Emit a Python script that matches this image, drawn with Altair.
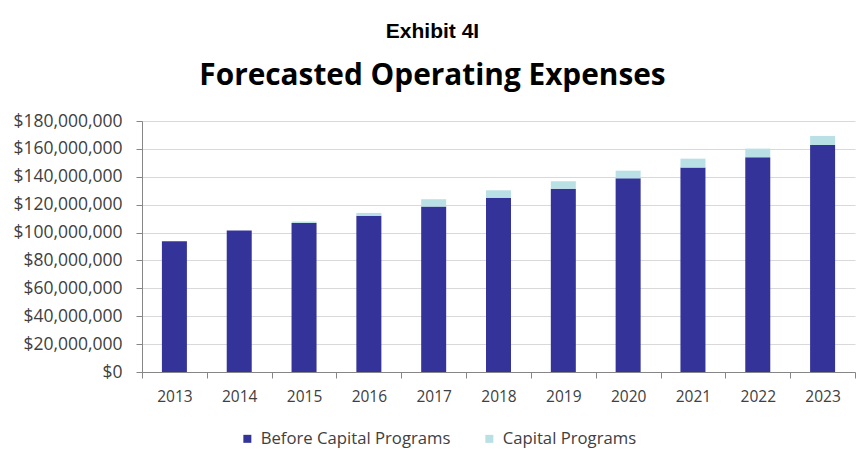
import altair as alt
import pandas as pd

years = ["2013", "2014", "2015", "2016", "2017", "2018", "2019", "2020", "2021", "2022", "2023"]
before_capital = [93.7e6, 101.5e6, 106.9e6, 112.1e6, 118.6e6, 125.0e6, 131.5e6, 138.9e6, 146.6e6, 154.0e6, 162.8e6]
capital = [0.0, 0.0, 1.0e6, 2.0e6, 5.3e6, 5.3e6, 5.3e6, 5.5e6, 6.4e6, 6.2e6, 6.5e6]
series = ["Before Capital Programs", "Capital Programs"]
y_ticks = [0, 20e6, 40e6, 60e6, 80e6, 100e6, 120e6, 140e6, 160e6, 180e6]

rows = []
for i, yr in enumerate(years):
    rows.append({"year": yr, "series": series[0], "value": before_capital[i], "ord": 0})
    rows.append({"year": yr, "series": series[1], "value": capital[i], "ord": 1})
df = pd.DataFrame(rows)

chart = alt.Chart(df).mark_bar(size=25).encode(
    x=alt.X("year:N", sort=years, title=None,
            scale=alt.Scale(paddingInner=0, paddingOuter=0),
            axis=alt.Axis(labelAngle=0, tickBand="extent", tickSize=6,
                          domainColor="#868686", tickColor="#868686",
                          labelFont="Open Sans", labelFontSize=15.5, labelColor="#404040",
                          labelPadding=11, grid=False)),
    y=alt.Y("value:Q", stack="zero", title=None,
            scale=alt.Scale(domain=[0, 180e6], nice=False),
            axis=alt.Axis(values=y_ticks, format="$,.0f", tickSize=6,
                          domainColor="#868686", tickColor="#868686",
                          gridColor="#d9d9d9", gridWidth=1,
                          labelFont="Open Sans", labelFontSize=17.5, labelColor="#404040",
                          labelPadding=14)),
    color=alt.Color("series:N", sort=series,
                    scale=alt.Scale(domain=series, range=["#333399", "#B9E0E4"]),
                    legend=alt.Legend(title=None, orient="none", direction="horizontal",
                                      legendX=97, legendY=309, padding=0,
                                      symbolType="square", symbolSize=64, symbolStrokeWidth=0,
                                      labelFont="Open Sans", labelFontSize=16.7, labelColor="#404040",
                                      labelLimit=0, labelOffset=5, columnPadding=30)),
    order=alt.Order("ord:Q"),
).properties(
    width=713, height=251,
    autosize=alt.AutoSizeParams(type="none"),
    padding={"left": 142, "top": 121, "right": 7, "bottom": 77},
    title=alt.TitleParams(
        text="Exhibit 4I", subtitle="Forecasted Operating Expenses",
        anchor="middle", dx=-66, offset=21,
        font="Liberation Sans", fontSize=21, fontWeight="bold", color="#000000",
        subtitleFont="Open Sans", subtitleFontSize=29.8, subtitleFontWeight="bold",
        subtitleColor="#000000", subtitlePadding=19,
    ),
).configure_view(stroke=None)

chart.save("out.html", embed_options={"renderer": "svg", "actions": False})
